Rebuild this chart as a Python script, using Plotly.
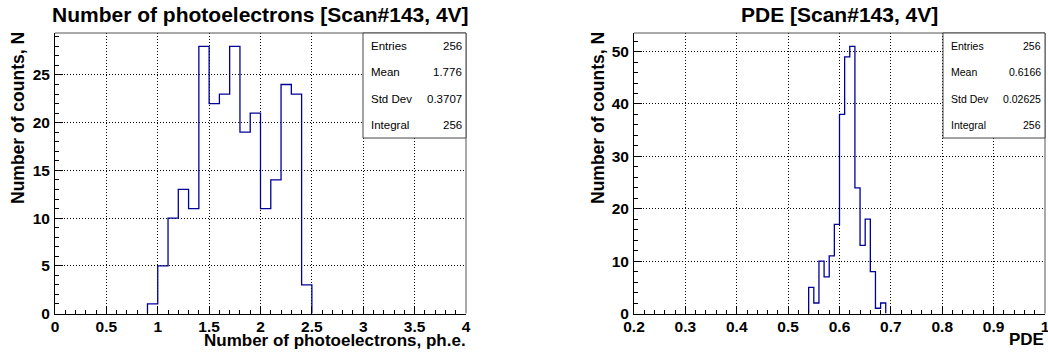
import numpy as np
import plotly.graph_objects as go

W, H = 1048, 356

# ---------------- data ----------------
pe_first_edge = 0.9
pe_bin_width = 0.1
pe_counts = [1, 5, 10, 13, 11, 28, 22, 23, 28, 19, 21, 11, 14, 24, 23, 3]

pde_first_edge = 0.54
pde_bin_width = 0.01
pde_counts = [5, 2, 10, 7, 11, 17, 38, 49, 51, 24, 13, 18, 8, 1, 2]

pe_xticks = [0, 0.5, 1, 1.5, 2, 2.5, 3, 3.5, 4]
pe_xticklabels = ["0", "0.5", "1", "1.5", "2", "2.5", "3", "3.5", "4"]
pe_yticks = [0, 5, 10, 15, 20, 25]
pde_xticks = [0.2, 0.3, 0.4, 0.5, 0.6, 0.7, 0.8, 0.9, 1.0]
pde_xticklabels = ["0.2", "0.3", "0.4", "0.5", "0.6", "0.7", "0.8", "0.9", "1"]
pde_yticks = [0, 10, 20, 30, 40, 50]

pe_title = "Number of photoelectrons [Scan#143, 4V]"
pde_title = "PDE [Scan#143, 4V]"
pe_xtitle = "Number of photoelectrons, ph.e."
pde_xtitle = "PDE"
ytitle = "Number of counts, N"

stat_labels = ["Entries", "Mean", "Std Dev", "Integral"]
pe_stats = ["256", "1.776", "0.3707", "256"]
pde_stats = ["256", "0.6166", "0.02625", "256"]

# ---------------- layout helpers (pixel -> paper) ----------------
def px(x):
    return x / W

def py(y):
    return 1 - y / H

FONT = "Liberation Sans"
LINE_COLOR = "#000099"

L_X0, L_X1 = 55, 466
R_X0, R_X1 = 634, 1045
Y_TOP, Y_BOT = 33, 313.5


def step_xy(first_edge, width, counts):
    n = len(counts)
    edges = np.round(first_edge + width * np.arange(n + 1), 6)
    xs = [edges[0]] + list(edges)
    ys = [0] + list(counts) + [0]
    return xs, ys


def bold(labels):
    return ["<b>%s</b>" % s for s in labels]


fig = go.Figure()

x1, y1 = step_xy(pe_first_edge, pe_bin_width, pe_counts)
fig.add_trace(go.Scatter(x=x1, y=y1, mode="lines", line=dict(shape="hv", color=LINE_COLOR, width=1.3),
                         xaxis="x", yaxis="y", showlegend=False, hoverinfo="skip"))
x2, y2 = step_xy(pde_first_edge, pde_bin_width, pde_counts)
fig.add_trace(go.Scatter(x=x2, y=y2, mode="lines", line=dict(shape="hv", color=LINE_COLOR, width=1.3),
                         xaxis="x2", yaxis="y2", showlegend=False, hoverinfo="skip"))

tickfont = dict(family=FONT, size=15.5, color="black", weight="bold")
GRID_DASH = "1px,2px"

def xaxis_cfg(domain, rng, tickvals, ticktext, minor_dtick, anchor):
    return dict(domain=domain, range=rng, tickmode="array", tickvals=tickvals, ticktext=bold(ticktext),
                anchor=anchor,
                ticks="inside", ticklen=8, tickwidth=1, tickcolor="black",
                minor=dict(dtick=minor_dtick, tick0=rng[0], ticks="inside", ticklen=4, tickcolor="black",
                           showgrid=False),
                showgrid=True, gridcolor="black", griddash=GRID_DASH, gridwidth=1,
                showline=True, linecolor="black", linewidth=1, zeroline=False,
                tickfont=tickfont, automargin=False, fixedrange=True, ticklabelstandoff=-1,
                ticklabeloverflow="allow")

def yaxis_cfg(domain, rng, tickvals, minor_dtick, anchor):
    return dict(domain=domain, range=rng, tickmode="array", tickvals=tickvals,
                ticktext=bold([str(v) for v in tickvals]), anchor=anchor,
                ticks="inside", ticklen=8, tickwidth=1, tickcolor="black",
                minor=dict(dtick=minor_dtick, tick0=0, ticks="inside", ticklen=4, tickcolor="black",
                           showgrid=False),
                showgrid=True, gridcolor="black", griddash=GRID_DASH, gridwidth=1,
                showline=True, linecolor="black", linewidth=1, zeroline=False,
                tickfont=tickfont, automargin=False, fixedrange=True, ticklabelstandoff=1,
                ticklabeloverflow="allow")

ydom = [py(Y_BOT), py(Y_TOP)]
pe_ymax = max(pe_counts) * 1.05
pde_ymax = max(pde_counts) * 1.05

fig.update_layout(
    width=W, height=H,
    margin=dict(l=0, r=0, t=0, b=0),
    paper_bgcolor="white", plot_bgcolor="white",
    xaxis=xaxis_cfg([px(L_X0), px(L_X1)], [0, 4], pe_xticks, pe_xticklabels, 0.1, "y"),
    yaxis=yaxis_cfg(ydom, [0, pe_ymax], pe_yticks, 1, "x"),
    xaxis2=xaxis_cfg([px(R_X0), px(R_X1)], [0.2, 1.0], pde_xticks, pde_xticklabels, 0.02, "y2"),
    yaxis2=yaxis_cfg(ydom, [0, pde_ymax], pde_yticks, 2, "x2"),
    showlegend=False,
)

shapes = []
annotations = []

for x0, x1_ in [(L_X0, L_X1), (R_X0, R_X1)]:
    shapes.append(dict(type="line", xref="paper", yref="paper", x0=px(x0), x1=px(x1_), y0=py(Y_TOP), y1=py(Y_TOP),
                       line=dict(color="#555555", width=1), layer="above"))
    shapes.append(dict(type="line", xref="paper", yref="paper", x0=px(x1_), x1=px(x1_), y0=py(Y_TOP), y1=py(Y_BOT),
                       line=dict(color="#555555", width=1), layer="above"))

annotations.append(dict(text=pe_title, x=px((L_X0 + L_X1) / 2), y=py(14.5), xref="paper", yref="paper",
                        xanchor="center", yanchor="middle", showarrow=False,
                        font=dict(family=FONT, size=21, color="black", weight="bold")))
annotations.append(dict(text=pde_title, x=px((R_X0 + R_X1) / 2), y=py(14.5), xref="paper", yref="paper",
                        xanchor="center", yanchor="middle", showarrow=False,
                        font=dict(family=FONT, size=21, color="black", weight="bold")))

annotations.append(dict(text=pe_xtitle, x=px(468), y=py(340), xref="paper", yref="paper",
                        xanchor="right", yanchor="middle", showarrow=False,
                        font=dict(family=FONT, size=17, color="black", weight="bold")))
annotations.append(dict(text=pde_xtitle, x=px(1046), y=py(339.5), xref="paper", yref="paper",
                        xanchor="right", yanchor="middle", showarrow=False,
                        font=dict(family=FONT, size=17, color="black", weight="bold")))

for xc in (18, 598):
    annotations.append(dict(text=ytitle, x=px(xc), y=py(30), xref="paper", yref="paper",
                            xanchor="center", yanchor="top", textangle=-90, showarrow=False,
                            font=dict(family=FONT, size=17.5, color="black", weight="bold")))

def stats_box(bx0, bx1, values, fsize):
    by0, by1 = Y_TOP, 138
    shapes.append(dict(type="rect", xref="paper", yref="paper", x0=px(bx0), x1=px(bx1), y0=py(by1), y1=py(by0),
                       fillcolor="white", line=dict(color="#444444", width=1), layer="above"))
    rh = (by1 - by0) / len(stat_labels)
    for i, (lab, val) in enumerate(zip(stat_labels, values)):
        yc = by0 + rh * (i + 0.5)
        annotations.append(dict(text=lab, x=px(bx0 + 6), y=py(yc), xref="paper", yref="paper",
                                xanchor="left", yanchor="middle", showarrow=False,
                                font=dict(family=FONT, size=fsize, color="black")))
        annotations.append(dict(text=val, x=px(bx1 - 2), y=py(yc), xref="paper", yref="paper",
                                xanchor="right", yanchor="middle", showarrow=False,
                                font=dict(family=FONT, size=fsize, color="black")))

stats_box(363, L_X1, pe_stats, 11.5)
stats_box(943, R_X1, pde_stats, 10.5)

fig.update_layout(shapes=shapes, annotations=annotations)

fig.write_html("out.html")
